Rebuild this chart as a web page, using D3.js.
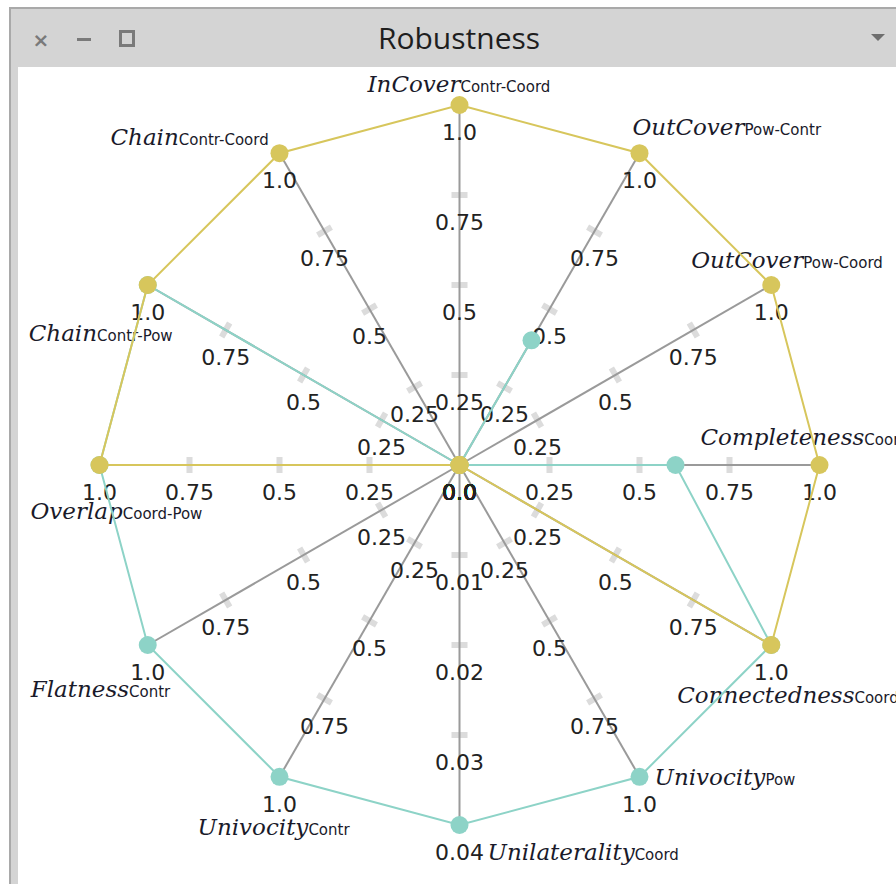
<!DOCTYPE html>
<html>
<head>
<meta charset="utf-8">
<script src="https://cdn.jsdelivr.net/npm/d3@7/dist/d3.min.js"></script>
<style>
  html, body { margin: 0; padding: 0; background: #fff; }
  svg { display: block; }
</style>
</head>
<body>
<svg id="win" width="896" height="884"></svg>
<script>
// Axis names and their subscripts, clockwise from the top
const axisNames = ["InCover", "OutCover", "OutCover", "Completeness", "Connectedness", "Univocity",
                   "Unilaterality", "Univocity", "Flatness", "Overlap", "Chain", "Chain"];
const axisSubs  = ["Contr-Coord", "Pow-Contr", "Pow-Coord", "Coord", "Coord", "Pow",
                   "Coord", "Contr", "Contr", "Coord-Pow", "Contr-Pow", "Contr-Coord"];
// Upper end of each axis domain
const axisMax   = [1, 1, 1, 1, 1, 1, 0.04, 1, 1, 1, 1, 1];
// Tick values along the axes
const unitTicks = [0, 0.25, 0.5, 0.75, 1.0];
const unitTickLabels = ["0.0", "0.25", "0.5", "0.75", "1.0"];
const smallTicks = [0, 0.01, 0.02, 0.03, 0.04];
const smallTickLabels = ["0.0", "0.01", "0.02", "0.03", "0.04"];
// Series values, one per axis
const tealValues = [0, 0.4, 0, 0.6, 1, 1, 0.04, 1, 1, 1, 1, 0];
const goldValues = [1, 1, 1, 1, 1, 0, 0, 0, 0, 1, 1, 1];

const W = 896, H = 884;
const cx = 459.5, cy = 465, R = 360;
const TEAL = "#8dd3c7", GOLD = "#d7c65c";

const svg = d3.select("#win");

// ---- window frame ----
svg.append("rect").attr("x", 0).attr("y", 0).attr("width", W).attr("height", H).attr("fill", "#fff");
svg.append("rect").attr("x", 9).attr("y", 7).attr("width", W - 9).attr("height", H - 7).attr("fill", "#a9a9a9");
svg.append("rect").attr("x", 11).attr("y", 9).attr("width", W - 11).attr("height", H - 9).attr("fill", "#d4d4d4");
svg.append("rect").attr("x", 18).attr("y", 67).attr("width", W - 18).attr("height", H - 67).attr("fill", "#fff");

const bar = svg.append("g");
bar.append("text").attr("x", 41).attr("y", 47).attr("text-anchor", "middle")
  .attr("font-family", "DejaVu Sans").attr("font-size", 20).attr("font-weight", "bold").attr("fill", "#7a7a7a").text("×");
bar.append("rect").attr("x", 77).attr("y", 38).attr("width", 14).attr("height", 3).attr("fill", "#7a7a7a");
bar.append("rect").attr("x", 120.5).attr("y", 31.5).attr("width", 13).attr("height", 14)
  .attr("fill", "none").attr("stroke", "#7a7a7a").attr("stroke-width", 3);
bar.append("text").attr("x", 459).attr("y", 49).attr("text-anchor", "middle")
  .attr("font-family", "Open Sans").attr("font-size", 30).attr("fill", "#1e1e1e").text("Robustness");
bar.append("path").attr("d", "M871,34 L885,34 L878,41 Z").attr("fill", "#6e6e6e");

// ---- radar ----
const n = axisNames.length;
const angle = d3.scaleLinear().domain([0, n]).range([0, 2 * Math.PI]);
const radius = axisMax.map(m => d3.scaleLinear().domain([0, m]).range([0, R]));
const pt = (i, v) => {
  const a = angle(i), r = radius[i](v);
  return [cx + r * Math.sin(a), cy - r * Math.cos(a)];
};

const g = svg.append("g");

// tick marks (drawn under the axis lines)
axisMax.forEach((m, i) => {
  const ticks = m === 1 ? unitTicks : smallTicks;
  const deg = angle(i) * 180 / Math.PI;
  ticks.slice(1, -1).forEach(t => {
    const [x, y] = pt(i, t);
    g.append("rect").attr("x", -3).attr("y", -8).attr("width", 6).attr("height", 16)
      .attr("fill", "#dcdcdc")
      .attr("transform", `translate(${x},${y}) rotate(${deg + 90})`);
  });
});

// axis lines
axisMax.forEach((m, i) => {
  const [x, y] = pt(i, m);
  g.append("line").attr("x1", cx).attr("y1", cy).attr("x2", x).attr("y2", y)
    .attr("stroke", "#9a9a9a").attr("stroke-width", 2);
});

// tick labels
axisMax.forEach((m, i) => {
  const ticks = m === 1 ? unitTicks : smallTicks;
  const labels = m === 1 ? unitTickLabels : smallTickLabels;
  ticks.forEach((t, k) => {
    const [x, y] = pt(i, t);
    g.append("text").attr("x", x).attr("y", y + 35).attr("text-anchor", "middle")
      .attr("font-family", "DejaVu Sans").attr("font-size", 22).attr("fill", "#222")
      .text(labels[k]);
  });
});

// axis name placement relative to each axis end (start x offset, baseline offset)
const nameOffset = [[-92, -13], [-7, -18], [-80, -17], [-119, -20], [-94, 58], [15, 8],
                    [28, 35], [-82, 58], [-117, 52], [-69, 54], [-119, 56], [-169, -8]];
axisNames.forEach((name, i) => {
  const [x, y] = pt(i, axisMax[i]);
  const t = g.append("text").attr("x", x + nameOffset[i][0]).attr("y", y + nameOffset[i][1]);
  t.append("tspan").attr("font-family", "DejaVu Serif").attr("font-style", "italic")
    .attr("font-size", 23).attr("fill", "#1a1a2a").text(name);
  t.append("tspan").attr("font-family", "DejaVu Sans").attr("font-size", 15)
    .attr("fill", "#1a1a2a").text(axisSubs[i]);
});

// series
const line = d3.line().curve(d3.curveLinearClosed);
function drawSeries(values, color) {
  const pts = values.map((v, i) => pt(i, v));
  g.append("path").attr("d", line(pts)).attr("fill", "none")
    .attr("stroke", color).attr("stroke-width", 2);
  g.selectAll(null).data(pts).enter().append("circle")
    .attr("cx", d => d[0]).attr("cy", d => d[1]).attr("r", 9).attr("fill", color);
}
drawSeries(tealValues, TEAL);
drawSeries(goldValues, GOLD);
</script>
</body>
</html>
